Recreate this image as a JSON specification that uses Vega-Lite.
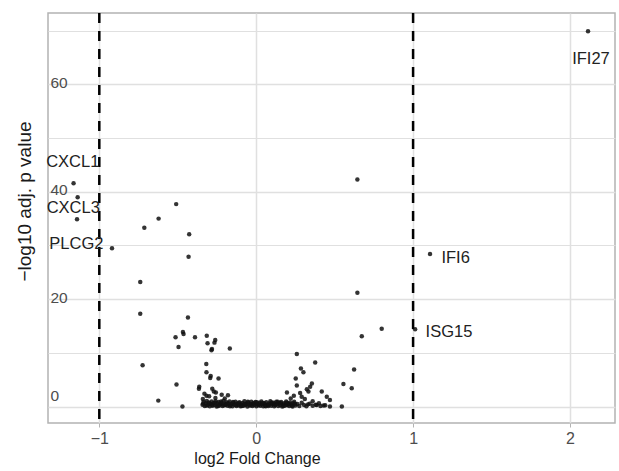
{
  "$schema": "https://vega.github.io/schema/vega-lite/v6.json",
  "autosize": "none",
  "padding": {"left": 48, "top": 13, "right": 4, "bottom": 48},
  "width": 567,
  "height": 410,
  "background": "white",
  "config": {
    "view": {"stroke": "#B3B3B3", "strokeWidth": 1.5},
    "font": "Liberation Sans"
  },
  "datasets": {
    "genes": [
      {"gene": "IFI27", "log2fc": 2.115, "nlp": 69.9},
      {"gene": "IFI6", "log2fc": 1.108, "nlp": 28.4},
      {"gene": "ISG15", "log2fc": 1.013, "nlp": 14.4},
      {"gene": "CXCL1", "log2fc": -1.164, "nlp": 41.6},
      {"gene": "CXCL3", "log2fc": -1.138, "nlp": 39.0},
      {"gene": "PLCG2", "log2fc": -0.919, "nlp": 29.5},
      {"gene": "", "log2fc": -1.142, "nlp": 34.9},
      {"gene": "", "log2fc": -0.51, "nlp": 37.7},
      {"gene": "", "log2fc": -0.622, "nlp": 35.0},
      {"gene": "", "log2fc": -0.713, "nlp": 33.3},
      {"gene": "", "log2fc": -0.427, "nlp": 32.1},
      {"gene": "", "log2fc": -0.431, "nlp": 27.9},
      {"gene": "", "log2fc": -0.739, "nlp": 23.2},
      {"gene": "", "log2fc": -0.739, "nlp": 17.3},
      {"gene": "", "log2fc": -0.435, "nlp": 16.6},
      {"gene": "", "log2fc": -0.467, "nlp": 13.9},
      {"gene": "", "log2fc": -0.463, "nlp": 13.5},
      {"gene": "", "log2fc": -0.514, "nlp": 12.9},
      {"gene": "", "log2fc": -0.39, "nlp": 12.9},
      {"gene": "", "log2fc": -0.495, "nlp": 11.1},
      {"gene": "", "log2fc": -0.315, "nlp": 13.2},
      {"gene": "", "log2fc": -0.31, "nlp": 11.8},
      {"gene": "", "log2fc": -0.261, "nlp": 12.4},
      {"gene": "", "log2fc": -0.266, "nlp": 11.9},
      {"gene": "", "log2fc": -0.282, "nlp": 10.7},
      {"gene": "", "log2fc": -0.285, "nlp": 10.5},
      {"gene": "", "log2fc": -0.168, "nlp": 10.8},
      {"gene": "", "log2fc": -0.724, "nlp": 7.7},
      {"gene": "", "log2fc": -0.318, "nlp": 7.9},
      {"gene": "", "log2fc": -0.317, "nlp": 6.4},
      {"gene": "", "log2fc": -0.29, "nlp": 5.7},
      {"gene": "", "log2fc": -0.293, "nlp": 5.3},
      {"gene": "", "log2fc": -0.24, "nlp": 5.2},
      {"gene": "", "log2fc": -0.508, "nlp": 4.1},
      {"gene": "", "log2fc": -0.363, "nlp": 3.7},
      {"gene": "", "log2fc": -0.365, "nlp": 3.3},
      {"gene": "", "log2fc": -0.27, "nlp": 2.8},
      {"gene": "", "log2fc": -0.257, "nlp": 2.6},
      {"gene": "", "log2fc": -0.18, "nlp": 2.1},
      {"gene": "", "log2fc": -0.317, "nlp": 2.0},
      {"gene": "", "log2fc": -0.624, "nlp": 1.1},
      {"gene": "", "log2fc": -0.47, "nlp": 0.0},
      {"gene": "", "log2fc": -0.33, "nlp": 2.4},
      {"gene": "", "log2fc": -0.3, "nlp": 1.9},
      {"gene": "", "log2fc": -0.26, "nlp": 1.6},
      {"gene": "", "log2fc": -0.22, "nlp": 2.2},
      {"gene": "", "log2fc": -0.2, "nlp": 1.5},
      {"gene": "", "log2fc": -0.34, "nlp": 1.4},
      {"gene": "", "log2fc": -0.28, "nlp": 3.3},
      {"gene": "", "log2fc": 0.673, "nlp": 13.1},
      {"gene": "", "log2fc": 0.645, "nlp": 42.3},
      {"gene": "", "log2fc": 0.645, "nlp": 21.2},
      {"gene": "", "log2fc": 0.80, "nlp": 14.5},
      {"gene": "", "log2fc": 0.259, "nlp": 9.8},
      {"gene": "", "log2fc": 0.376, "nlp": 8.2},
      {"gene": "", "log2fc": 0.285, "nlp": 7.1},
      {"gene": "", "log2fc": 0.301, "nlp": 6.4},
      {"gene": "", "log2fc": 0.624, "nlp": 6.9},
      {"gene": "", "log2fc": 0.252, "nlp": 5.2},
      {"gene": "", "log2fc": 0.556, "nlp": 4.2},
      {"gene": "", "log2fc": 0.609, "nlp": 3.4},
      {"gene": "", "log2fc": 0.259, "nlp": 3.9},
      {"gene": "", "log2fc": 0.355, "nlp": 4.3},
      {"gene": "", "log2fc": 0.344, "nlp": 3.7},
      {"gene": "", "log2fc": 0.323, "nlp": 3.2},
      {"gene": "", "log2fc": 0.333, "nlp": 2.8},
      {"gene": "", "log2fc": 0.196, "nlp": 2.6},
      {"gene": "", "log2fc": 0.418, "nlp": 2.8},
      {"gene": "", "log2fc": 0.45, "nlp": 1.8},
      {"gene": "", "log2fc": 0.47, "nlp": 1.2},
      {"gene": "", "log2fc": 0.28, "nlp": 2.5},
      {"gene": "", "log2fc": 0.29, "nlp": 1.8},
      {"gene": "", "log2fc": 0.546, "nlp": 0.0},
      {"gene": "", "log2fc": 0.47, "nlp": 0.0},
      {"gene": "", "log2fc": 0.386, "nlp": 0.3},
      {"gene": "", "log2fc": 0.22, "nlp": 1.5},
      {"gene": "", "log2fc": 0.24, "nlp": 2.0},
      {"gene": "", "log2fc": 0.31, "nlp": 1.4},
      {"gene": "", "log2fc": 0.36, "nlp": 1.0},
      {"gene": "", "log2fc": 0.4, "nlp": 0.6},
      {"gene": "", "log2fc": 0.33, "nlp": 0.4},
      {"gene": "", "log2fc": 0.43, "nlp": 0.2},
      {"gene": "", "log2fc": -0.342, "nlp": 0.35},
      {"gene": "", "log2fc": -0.335, "nlp": 0.9},
      {"gene": "", "log2fc": -0.328, "nlp": 0.1},
      {"gene": "", "log2fc": -0.321, "nlp": 0.6},
      {"gene": "", "log2fc": -0.315, "nlp": 1.05},
      {"gene": "", "log2fc": -0.309, "nlp": 0.25},
      {"gene": "", "log2fc": -0.302, "nlp": 0.75},
      {"gene": "", "log2fc": -0.296, "nlp": 0.05},
      {"gene": "", "log2fc": -0.29, "nlp": 0.45},
      {"gene": "", "log2fc": -0.284, "nlp": 0.95},
      {"gene": "", "log2fc": -0.278, "nlp": 0.15},
      {"gene": "", "log2fc": -0.271, "nlp": 0.65},
      {"gene": "", "log2fc": -0.265, "nlp": 0.3},
      {"gene": "", "log2fc": -0.259, "nlp": 1.0},
      {"gene": "", "log2fc": -0.252, "nlp": 0.02},
      {"gene": "", "log2fc": -0.246, "nlp": 0.55},
      {"gene": "", "log2fc": -0.24, "nlp": 0.85},
      {"gene": "", "log2fc": -0.233, "nlp": 0.2},
      {"gene": "", "log2fc": -0.227, "nlp": 0.4},
      {"gene": "", "log2fc": -0.221, "nlp": 0.7},
      {"gene": "", "log2fc": -0.214, "nlp": 0.08},
      {"gene": "", "log2fc": -0.208, "nlp": 1.1},
      {"gene": "", "log2fc": -0.202, "nlp": 0.5},
      {"gene": "", "log2fc": -0.195, "nlp": 0.3},
      {"gene": "", "log2fc": -0.189, "nlp": 0.8},
      {"gene": "", "log2fc": -0.183, "nlp": 0.12},
      {"gene": "", "log2fc": -0.176, "nlp": 0.6},
      {"gene": "", "log2fc": -0.17, "nlp": 0.95},
      {"gene": "", "log2fc": -0.164, "nlp": 0.22},
      {"gene": "", "log2fc": -0.157, "nlp": 0.45},
      {"gene": "", "log2fc": -0.151, "nlp": 0.03},
      {"gene": "", "log2fc": -0.145, "nlp": 0.7},
      {"gene": "", "log2fc": -0.138, "nlp": 0.35},
      {"gene": "", "log2fc": -0.132, "nlp": 0.9},
      {"gene": "", "log2fc": -0.126, "nlp": 0.1},
      {"gene": "", "log2fc": -0.119, "nlp": 0.55},
      {"gene": "", "log2fc": -0.113, "nlp": 0.25},
      {"gene": "", "log2fc": -0.107, "nlp": 0.8},
      {"gene": "", "log2fc": -0.1, "nlp": 0.05},
      {"gene": "", "log2fc": -0.094, "nlp": 0.4},
      {"gene": "", "log2fc": -0.088, "nlp": 0.65},
      {"gene": "", "log2fc": -0.081, "nlp": 0.15},
      {"gene": "", "log2fc": -0.075, "nlp": 1.0},
      {"gene": "", "log2fc": -0.069, "nlp": 0.3},
      {"gene": "", "log2fc": -0.062, "nlp": 0.5},
      {"gene": "", "log2fc": -0.056, "nlp": 0.02},
      {"gene": "", "log2fc": -0.05, "nlp": 0.75},
      {"gene": "", "log2fc": -0.043, "nlp": 0.2},
      {"gene": "", "log2fc": -0.037, "nlp": 0.45},
      {"gene": "", "log2fc": -0.031, "nlp": 0.9},
      {"gene": "", "log2fc": -0.024, "nlp": 0.1},
      {"gene": "", "log2fc": -0.018, "nlp": 0.6},
      {"gene": "", "log2fc": -0.012, "nlp": 0.3},
      {"gene": "", "log2fc": -0.005, "nlp": 0.85},
      {"gene": "", "log2fc": 0.001, "nlp": 0.05},
      {"gene": "", "log2fc": 0.007, "nlp": 0.5},
      {"gene": "", "log2fc": 0.014, "nlp": 0.25},
      {"gene": "", "log2fc": 0.02, "nlp": 0.7},
      {"gene": "", "log2fc": 0.026, "nlp": 0.12},
      {"gene": "", "log2fc": 0.033, "nlp": 0.95},
      {"gene": "", "log2fc": 0.039, "nlp": 0.4},
      {"gene": "", "log2fc": 0.045, "nlp": 0.03},
      {"gene": "", "log2fc": 0.052, "nlp": 0.6},
      {"gene": "", "log2fc": 0.058, "nlp": 0.2},
      {"gene": "", "log2fc": 0.064, "nlp": 0.8},
      {"gene": "", "log2fc": 0.071, "nlp": 0.35},
      {"gene": "", "log2fc": 0.077, "nlp": 0.08},
      {"gene": "", "log2fc": 0.083, "nlp": 0.55},
      {"gene": "", "log2fc": 0.09, "nlp": 1.0},
      {"gene": "", "log2fc": 0.096, "nlp": 0.15},
      {"gene": "", "log2fc": 0.102, "nlp": 0.45},
      {"gene": "", "log2fc": 0.109, "nlp": 0.7},
      {"gene": "", "log2fc": 0.115, "nlp": 0.05},
      {"gene": "", "log2fc": 0.121, "nlp": 0.3},
      {"gene": "", "log2fc": 0.128, "nlp": 0.9},
      {"gene": "", "log2fc": 0.134, "nlp": 0.5},
      {"gene": "", "log2fc": 0.14, "nlp": 0.1},
      {"gene": "", "log2fc": 0.147, "nlp": 0.65},
      {"gene": "", "log2fc": 0.153, "nlp": 0.25},
      {"gene": "", "log2fc": 0.159, "nlp": 0.85},
      {"gene": "", "log2fc": 0.166, "nlp": 0.02},
      {"gene": "", "log2fc": 0.172, "nlp": 0.4},
      {"gene": "", "log2fc": 0.178, "nlp": 0.6},
      {"gene": "", "log2fc": 0.185, "nlp": 0.18},
      {"gene": "", "log2fc": 0.191, "nlp": 0.95},
      {"gene": "", "log2fc": 0.197, "nlp": 0.3},
      {"gene": "", "log2fc": 0.204, "nlp": 0.55},
      {"gene": "", "log2fc": 0.21, "nlp": 0.08},
      {"gene": "", "log2fc": 0.216, "nlp": 0.75},
      {"gene": "", "log2fc": 0.223, "nlp": 0.35},
      {"gene": "", "log2fc": 0.229, "nlp": 0.15},
      {"gene": "", "log2fc": 0.236, "nlp": 0.6},
      {"gene": "", "log2fc": 0.242, "nlp": 0.9},
      {"gene": "", "log2fc": 0.25, "nlp": 0.2},
      {"gene": "", "log2fc": 0.262, "nlp": 0.45},
      {"gene": "", "log2fc": 0.275, "nlp": 0.1},
      {"gene": "", "log2fc": 0.29, "nlp": 0.7},
      {"gene": "", "log2fc": 0.305, "nlp": 0.3},
      {"gene": "", "log2fc": 0.32, "nlp": 0.05},
      {"gene": "", "log2fc": 0.34, "nlp": 0.5},
      {"gene": "", "log2fc": 0.36, "nlp": 0.15},
      {"gene": "", "log2fc": 0.38, "nlp": 0.35},
      {"gene": "", "log2fc": 0.41, "nlp": 0.08},
      {"gene": "", "log2fc": 0.44, "nlp": 0.25},
      {"gene": "", "log2fc": -0.338, "nlp": 0.55},
      {"gene": "", "log2fc": -0.318, "nlp": 0.2},
      {"gene": "", "log2fc": -0.298, "nlp": 0.6},
      {"gene": "", "log2fc": -0.281, "nlp": 0.35},
      {"gene": "", "log2fc": -0.262, "nlp": 0.7},
      {"gene": "", "log2fc": -0.243, "nlp": 0.1},
      {"gene": "", "log2fc": -0.224, "nlp": 0.95},
      {"gene": "", "log2fc": -0.205, "nlp": 0.25},
      {"gene": "", "log2fc": -0.186, "nlp": 0.5},
      {"gene": "", "log2fc": -0.167, "nlp": 0.05},
      {"gene": "", "log2fc": -0.148, "nlp": 0.85},
      {"gene": "", "log2fc": -0.129, "nlp": 0.35},
      {"gene": "", "log2fc": -0.11, "nlp": 0.6},
      {"gene": "", "log2fc": -0.091, "nlp": 0.1},
      {"gene": "", "log2fc": -0.072, "nlp": 0.45},
      {"gene": "", "log2fc": -0.053, "nlp": 0.9},
      {"gene": "", "log2fc": -0.034, "nlp": 0.25},
      {"gene": "", "log2fc": -0.015, "nlp": 0.55},
      {"gene": "", "log2fc": 0.004, "nlp": 0.8},
      {"gene": "", "log2fc": 0.023, "nlp": 0.4},
      {"gene": "", "log2fc": 0.042, "nlp": 0.65},
      {"gene": "", "log2fc": 0.061, "nlp": 0.05},
      {"gene": "", "log2fc": 0.08, "nlp": 0.3},
      {"gene": "", "log2fc": 0.099, "nlp": 0.75},
      {"gene": "", "log2fc": 0.118, "nlp": 0.5},
      {"gene": "", "log2fc": 0.137, "nlp": 0.9},
      {"gene": "", "log2fc": 0.156, "nlp": 0.6},
      {"gene": "", "log2fc": 0.175, "nlp": 0.1},
      {"gene": "", "log2fc": 0.194, "nlp": 0.7},
      {"gene": "", "log2fc": 0.213, "nlp": 0.45},
      {"gene": "", "log2fc": 0.232, "nlp": 0.02},
      {"gene": "", "log2fc": 0.247, "nlp": 0.5}
    ],
    "labels": [
      {"gene": "IFI27", "label_x": 2.134, "label_y": 64.8},
      {"gene": "IFI6", "label_x": 1.271, "label_y": 27.6},
      {"gene": "ISG15", "label_x": 1.229, "label_y": 13.9},
      {"gene": "CXCL1", "label_x": -1.169, "label_y": 45.5},
      {"gene": "CXCL3", "label_x": -1.166, "label_y": 36.9},
      {"gene": "PLCG2", "label_x": -1.146, "label_y": 30.2}
    ],
    "cutoffs": [
      {"cutoff": -1},
      {"cutoff": 1}
    ]
  },
  "layer": [
    {
      "data": {"name": "genes"},
      "mark": {"type": "circle", "size": 20, "color": "#111111", "opacity": 0.85},
      "encoding": {
        "x": {
          "field": "log2fc",
          "type": "quantitative",
          "title": "log2 Fold Change",
          "scale": {"domain": [-1.327, 2.287], "nice": false, "zero": false},
          "axis": {
            "values": [-1, -0.5, 0, 0.5, 1, 1.5, 2],
            "labelExpr": "datum.value % 1 === 0 ? datum.label : ''",
            "format": "d",
            "domain": false,
            "gridColor": "#E0E0E0",
            "gridWidth": {"condition": {"test": "datum.value % 1 !== 0", "value": 1}, "value": 1.5},
            "tickColor": "#B3B3B3",
            "tickOpacity": {"condition": {"test": "datum.value % 1 !== 0", "value": 0}, "value": 1},
            "tickSize": 4,
            "labelPadding": 3,
            "labelFont": "Liberation Sans",
            "labelFontSize": 16,
            "labelColor": "#4D4D4D",
            "titleFont": "Liberation Sans",
            "titleFontSize": 16,
            "titleFontWeight": "normal",
            "titleColor": "#1A1A1A",
            "titleX": 209,
            "titleY": 40,
            "titleBaseline": "alphabetic"
          }
        },
        "y": {
          "field": "nlp",
          "type": "quantitative",
          "title": "\u2212log10 adj. p value",
          "scale": {"domain": [-3.07, 73.3], "nice": false, "zero": false},
          "axis": {
            "values": [0, 10, 20, 30, 40, 50, 60, 70],
            "labelExpr": "datum.value % 20 === 0 ? datum.label : ''",
            "domain": false,
            "ticks": false,
            "gridColor": "#E0E0E0",
            "gridWidth": {"condition": {"test": "datum.value % 20 !== 0", "value": 1}, "value": 1.5},
            "labelAlign": "left",
            "labelPadding": -2,
            "labelOffset": {"condition": {"test": "datum.value === 0", "value": -11}, "value": -2},
            "labelFont": "Liberation Sans",
            "labelFontSize": 15.5,
            "labelColor": "#4D4D4D",
            "titleFont": "Liberation Sans",
            "titleFontSize": 19,
            "titleFontWeight": "normal",
            "titleColor": "#1A1A1A",
            "titleX": -18,
            "titleY": 188,
            "titleBaseline": "alphabetic"
          }
        }
      }
    },
    {
      "data": {"name": "cutoffs"},
      "mark": {"type": "rule", "color": "#000000", "strokeWidth": 2.5, "strokeDash": [10, 8]},
      "encoding": {
        "x": {"field": "cutoff", "type": "quantitative", "title": "log2 Fold Change"}
      }
    },
    {
      "mark": {"type": "rule", "color": "#000000", "strokeWidth": 2.5, "strokeDash": [10, 8]},
      "encoding": {
        "y": {"datum": 1.3, "type": "quantitative", "title": "\u2212log10 adj. p value"}
      }
    },
    {
      "data": {"name": "labels"},
      "mark": {"type": "text", "font": "Liberation Sans", "fontSize": 16.5, "color": "#222222", "align": "center", "baseline": "middle"},
      "encoding": {
        "x": {"field": "label_x", "type": "quantitative", "title": "log2 Fold Change"},
        "y": {"field": "label_y", "type": "quantitative", "title": "\u2212log10 adj. p value"},
        "text": {"field": "gene"}
      }
    }
  ]
}
